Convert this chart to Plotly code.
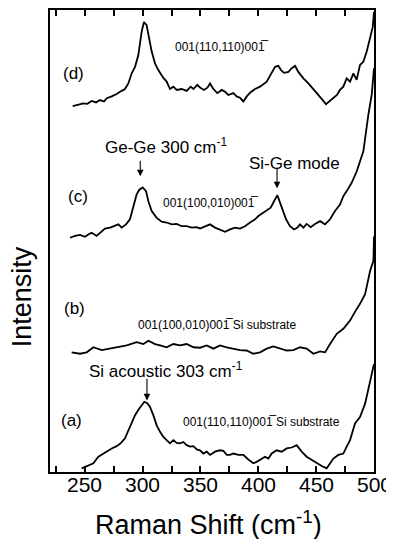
import plotly.graph_objects as go

# Raman shift (cm-1) and intensity (arb. units)
d_shift = [239.6,244.5,248.8,252.3,256.0,259.8,263.2,266.7,269.0,273.3,277.6,281.9,284.8,287.7,290.6,293.5,296.3,299.2,301.2,303.5,305.6,307.9,310.8,313.6,318.0,320.8,323.7,326.6,329.5,333.8,338.1,341.6,343.9,347.3,349.6,353.1,356.0,358.3,361.2,364.6,368.4,371.3,374.1,378.5,381.3,384.2,387.1,390.0,393.4,397.2,401.5,405.0,407.3,410.7,414.5,417.3,419.7,422.2,426.0,428.9,431.8,434.6,439.0,443.3,447.6,451.9,455.7,458.5,462.0,464.9,468.0,470.6,473.5,476.4,479.3,482.2,485.0,487.9,490.8,493.7,496.6,498.9,500.0]
d_int = [79.2,79.5,79.8,79.7,80.3,80.0,80.5,80.2,80.9,81.3,81.8,82.5,82.9,84.1,86.3,87.7,90.2,95.3,97.4,96.7,93.8,91.0,88.4,87.0,85.3,84.5,82.9,83.4,82.7,82.9,82.5,83.4,82.9,83.8,83.2,82.7,83.2,84.1,82.9,82.0,82.7,82.3,81.6,82.0,81.3,81.0,80.2,81.3,82.2,82.9,83.4,84.1,84.5,86.0,87.7,87.9,87.0,86.4,86.6,87.4,87.9,86.6,85.2,84.1,82.9,81.6,80.5,79.6,80.3,81.0,81.6,82.7,83.4,85.2,84.5,86.3,84.9,88.1,88.8,91.0,93.8,96.3,99.6]

c_shift = [237.3,241.6,245.9,250.3,253.1,256.0,260.3,263.2,267.5,271.9,276.2,279.1,281.9,285.7,289.1,292.0,294.9,297.2,300.1,303.0,305.0,307.9,312.2,316.5,320.8,325.2,329.5,333.8,338.1,342.4,346.8,349.6,354.0,358.3,362.6,366.9,371.3,375.6,379.9,384.2,388.5,392.9,397.2,400.1,404.4,407.3,410.7,413.6,416.5,418.8,421.1,424.0,427.4,430.9,433.8,436.1,439.0,441.8,445.3,449.0,453.4,457.7,462.0,466.3,470.6,473.5,476.4,480.7,485.1,490.8,495.1,498.0,500.0]
c_int = [50.7,51.1,51.3,50.9,51.4,51.8,51.1,51.8,52.7,52.9,53.4,53.6,52.9,53.6,54.7,57.2,60.1,61.1,61.6,60.8,58.6,56.5,55.0,54.2,54.0,53.6,53.7,53.2,53.2,52.9,53.0,52.7,53.2,53.6,52.9,52.5,52.0,52.5,52.9,52.7,53.2,54.0,54.7,55.4,56.1,56.5,57.2,58.6,59.9,58.3,56.5,54.7,53.2,52.5,52.9,53.6,52.9,53.7,53.0,53.7,54.3,53.6,54.7,56.5,57.9,59.7,60.8,62.6,65.1,69.4,77.3,81.6,87.4]

b_shift = [238.7,245.9,251.7,257.5,264.7,271.9,279.1,286.3,294.9,300.7,305.0,310.8,315.1,320.8,326.6,332.4,338.1,343.9,349.6,355.4,361.2,366.9,372.7,378.5,384.2,390.0,395.7,401.5,407.3,413.0,418.8,424.6,430.3,436.1,441.8,447.6,453.4,457.7,462.0,467.8,473.5,479.3,485.1,487.9,492.3,495.1,496.6,499.5,500.0]
b_int = [25.9,25.6,25.9,27.0,26.4,26.7,27.0,27.4,28.1,27.7,28.4,27.7,27.4,27.0,27.7,27.4,27.7,27.0,26.9,27.4,26.7,27.4,27.0,26.7,26.4,26.3,25.6,25.9,26.7,27.2,26.7,26.3,26.4,27.0,26.7,25.6,26.1,25.9,27.7,29.9,31.0,32.8,35.3,36.4,38.5,41.4,43.5,45.7,51.0]

a_shift = [247.4,253.1,257.5,261.8,266.1,269.6,273.3,277.6,281.1,284.8,287.7,290.6,293.5,296.3,299.2,301.5,304.1,306.4,309.3,312.2,315.1,318.0,320.8,323.7,326.6,329.5,332.4,335.2,338.1,341.0,343.9,346.8,349.6,352.5,355.4,358.3,362.6,366.9,369.8,372.7,375.6,378.5,382.8,387.1,391.4,395.7,398.6,401.5,405.8,408.7,411.6,415.9,420.2,424.6,428.9,433.2,437.5,441.8,446.2,450.5,454.8,459.1,462.0,464.9,469.2,473.5,476.4,479.3,483.6,487.9,492.3,495.1,498.0,500.0]
a_int = [0.8,1.5,1.9,3.3,4.0,4.4,5.1,5.6,6.2,7.3,9.1,10.8,12.3,13.4,14.4,15.2,14.9,14.1,12.3,10.1,8.7,7.6,6.9,6.2,6.9,6.3,6.2,6.5,5.8,5.5,5.6,4.9,4.7,4.0,4.4,3.7,4.4,4.7,4.6,3.7,3.7,4.0,3.7,3.7,2.7,1.9,2.2,2.6,3.3,2.9,4.0,4.7,4.4,5.1,5.3,5.8,4.4,3.3,2.6,1.9,1.3,0.8,1.9,2.9,3.7,4.0,5.5,6.9,10.5,11.9,14.8,17.7,21.3,23.4]

tick_vals = [225, 250, 275, 300, 325, 350, 375, 400, 425, 450, 475, 500]
tick_text = ["", "250", "", "300", "", "350", "", "400", "", "450", "", "500"]

OV = "1\u0305"
FONT = "Liberation Sans, Arial, sans-serif"

fig = go.Figure()
for xs, ys in [(d_shift, d_int), (c_shift, c_int), (b_shift, b_int), (a_shift, a_int)]:
    fig.add_trace(go.Scatter(x=xs, y=ys, mode="lines",
                             line=dict(color="black", width=1.8),
                             showlegend=False, hoverinfo="skip"))

def label(x, y, text, size):
    fig.add_annotation(x=x, y=y, text=text, showarrow=False,
                       font=dict(family=FONT, size=size, color="black"),
                       xanchor="center", yanchor="middle")

def arrow(x, y_tail, y_head):
    fig.add_annotation(x=x, y=y_head, ax=x, ay=y_tail, axref="x", ayref="y",
                       text="", showarrow=True, arrowhead=2, arrowsize=1.2,
                       arrowwidth=1.1, arrowcolor="black")

label(240.0, 86.2, "(d)", 17)
label(368.7, 92.0, "001(110,110)00" + OV, 12)
label(320.3, 70.5, "Ge-Ge 300 cm<sup>-1</sup>", 17)
arrow(298.0, 67.7, 64.0)
label(430.9, 66.8, "Si-Ge mode", 17)
arrow(416.2, 66.2, 61.4)
label(244.2, 59.7, "(c)", 17)
label(358.3, 58.2, "001(100,010)00" + OV, 12)
label(241.6, 35.3, "(b)", 17)
label(364.3, 31.9, "001(100,010)00" + OV + " Si substrate", 12)
label(320.3, 22.0, "Si acoustic 303 cm<sup>-1</sup>", 17)
arrow(303.8, 20.5, 15.5)
label(239.0, 11.2, "(a)", 17)
label(403.2, 10.8, "001(110,110)00" + OV + " Si substrate", 12)

# x tick labels, placed close under the axis as in the original
for v, t in zip(tick_vals, tick_text):
    if t:
        fig.add_annotation(x=v, xref="x", yref="paper", y=0, yshift=-12,
                           text=t, showarrow=False,
                           font=dict(family=FONT, size=21, color="black"),
                           xanchor="center", yanchor="middle")

# axis titles
fig.add_annotation(xref="paper", yref="paper", x=-0.084, y=0.38,
                   text="Intensity", textangle=-90, showarrow=False,
                   font=dict(family=FONT, size=27, color="black"),
                   xanchor="center", yanchor="middle")
fig.add_annotation(xref="paper", yref="paper", x=0.49, y=-0.11,
                   text="Raman Shift (cm<sup>-1</sup>)", showarrow=False,
                   font=dict(family=FONT, size=27, color="black"),
                   xanchor="center", yanchor="middle")

fig.update_xaxes(range=[220, 500], tickvals=tick_vals, ticktext=tick_text,
                 showticklabels=False,
                 ticks="inside", ticklen=6, tickwidth=1.5, tickcolor="black",
                 showline=True, linewidth=1.8, linecolor="black", mirror="ticks",
                 showgrid=False, zeroline=False)
fig.update_yaxes(range=[0, 100], showticklabels=False, ticks="",
                 showline=True, linewidth=1.8, linecolor="black", mirror=True,
                 showgrid=False, zeroline=False)

# the page body adds an 8px offset, so the figure is 8px smaller with 8px less margin
fig.update_layout(width=386, height=531,
                  margin=dict(l=42, r=20, t=0, b=67),
                  plot_bgcolor="white", paper_bgcolor="white",
                  font=dict(family=FONT, color="black"))

fig.write_html("out.html")
